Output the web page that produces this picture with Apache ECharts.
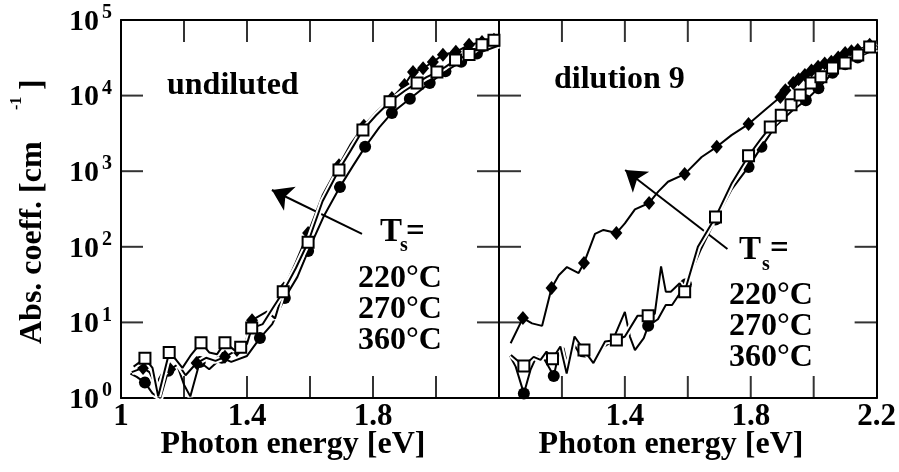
<!DOCTYPE html>
<html><head><meta charset="utf-8">
<script src="https://cdn.jsdelivr.net/npm/echarts@6/dist/echarts.min.js"></script>
<style>html,body{margin:0;padding:0;background:#fff}#c{width:899px;height:472px}</style>
</head><body><div id="c"></div>
<script>
// ---------------- data ----------------
const xLabelsLeft = [1, 1.4, 1.8];
const xLabelsRight = [1.4, 1.8, 2.2];
const xTickValues = [1.2, 1.4, 1.6, 1.8, 2.0];
const yTickValues = [10, 100, 1000, 10000];
const tempLabels = ['220°C', '270°C', '360°C'];
const panelLabels = ['undiluted', 'dilution 9'];
const xTitle = 'Photon energy [eV]';
const yTitle = 'Abs. coeff. [cm';
// [photon energy eV, absorption coefficient cm^-1, marker shown]
const leftD = [[1.034,2.2,0],[1.07,2.5,1],[1.09,2.2,0],[1.11,1.5,0],[1.13,2.1,0],[1.156,2.4,1],[1.182,2.8,0],[1.205,2.0,0],[1.24,2.9,1],[1.27,3.4,0],[1.30,3.1,0],[1.33,3.5,1],[1.368,4.3,1],[1.39,4.6,0],[1.416,10.7,1],[1.463,13.9,0],[1.489,11.3,0],[1.517,28,1],[1.555,62,0],[1.594,152,1],[1.64,480,0],[1.692,1200,1],[1.73,2300,0],[1.771,4000,1],[1.815,6300,0],[1.86,9300,1],[1.90,13800,1],[1.927,20500,1],[1.959,23000,1],[1.99,27800,1],[2.022,34600,1],[2.063,38000,1],[2.105,47000,1],[2.146,51000,1],[2.184,55000,1]];
const leftS = [[1.04,2.6,0],[1.076,3.35,1],[1.10,2.5,0],[1.118,1.05,0],[1.153,4.0,1],[1.175,3.2,0],[1.195,2.5,0],[1.22,3.6,0],[1.254,5.4,1],[1.28,4.0,0],[1.305,3.8,0],[1.33,5.4,1],[1.36,4.3,0],[1.38,4.7,1],[1.40,5.2,0],[1.415,8.4,1],[1.45,9.5,0],[1.48,15,0],[1.515,25.5,1],[1.555,52,0],[1.594,115,1],[1.64,400,0],[1.692,1040,1],[1.73,1900,0],[1.768,3500,1],[1.81,5500,0],[1.854,8300,1],[1.90,11500,0],[1.94,14700,1],[1.97,17500,0],[2.003,20500,1],[2.03,24000,0],[2.062,29500,1],[2.105,35000,1],[2.146,47000,1],[2.184,54000,1]];
const leftC = [[1.03,2.1,0],[1.05,1.9,0],[1.076,1.6,1],[1.10,1.15,0],[1.125,1.0,0],[1.15,2.3,1],[1.18,2.6,0],[1.20,1.5,0],[1.22,1.05,0],[1.25,3.0,1],[1.28,2.4,0],[1.32,3.4,1],[1.35,3.0,0],[1.40,3.6,0],[1.441,6.2,1],[1.48,9.5,0],[1.52,21,1],[1.56,40,0],[1.594,88,1],[1.645,260,0],[1.695,620,1],[1.735,1150,0],[1.775,2100,1],[1.82,3800,0],[1.86,5900,1],[1.917,9100,1],[1.98,14700,1],[2.03,21000,1],[2.08,28000,1],[2.13,36000,1],[2.2,46000,0]];
const rightD = [[1.037,5.3,0],[1.076,11.4,1],[1.105,9.7,0],[1.137,9.0,0],[1.167,28.5,1],[1.19,42,0],[1.216,54,0],[1.253,45,0],[1.27,61,1],[1.305,148,0],[1.332,167,0],[1.373,152,1],[1.40,204,0],[1.432,313,0],[1.477,380,1],[1.506,537,0],[1.537,725,0],[1.59,915,1],[1.644,1540,0],[1.692,2100,1],[1.739,3000,0],[1.793,4200,1],[1.845,6450,0],[1.894,9600,1],[1.91,11800,1],[1.935,14700,1],[1.952,16500,1],[1.972,18700,1],[1.993,21500,1],[2.014,24000,1],[2.035,26500,1],[2.056,28000,1],[2.078,32000,1],[2.10,36600,1],[2.12,38500,1],[2.14,40000,1],[2.178,47000,1],[2.2,50000,0]];
const rightS = [[1.038,3.7,0],[1.079,2.65,1],[1.11,3.5,0],[1.132,3.2,0],[1.151,4.1,0],[1.17,3.3,1],[1.195,4.8,0],[1.215,2.1,0],[1.24,6.5,0],[1.27,4.3,1],[1.30,2.9,0],[1.337,5.6,0],[1.373,5.85,1],[1.40,6.5,0],[1.44,12.2,0],[1.474,12.2,1],[1.495,13,0],[1.515,55,0],[1.53,25.5,0],[1.546,25.5,0],[1.574,33,0],[1.59,25.5,1],[1.632,100,0],[1.688,247,1],[1.74,700,0],[1.793,1600,1],[1.83,2600,0],[1.862,3830,1],[1.897,5500,1],[1.928,7550,1],[1.957,10200,1],[1.992,14700,1],[2.023,17700,1],[2.06,23200,1],[2.10,27000,1],[2.14,34500,1],[2.178,44000,1],[2.2,46000,0]];
const rightC = [[1.035,3.6,0],[1.053,2.6,0],[1.079,1.15,1],[1.10,2.35,0],[1.12,3.6,0],[1.145,3.2,0],[1.16,2.5,0],[1.174,1.95,1],[1.19,3.9,0],[1.205,4.6,0],[1.22,2.4,0],[1.24,5.0,0],[1.26,3.6,0],[1.28,3.5,0],[1.30,3.0,0],[1.335,4.8,0],[1.36,5.6,0],[1.40,13.8,0],[1.416,6.5,0],[1.432,4.3,0],[1.46,6.2,0],[1.474,9.0,1],[1.505,11,0],[1.53,17,0],[1.55,17,0],[1.594,32,1],[1.64,90,0],[1.688,230,1],[1.74,580,0],[1.793,1140,1],[1.834,2100,1],[1.88,4000,0],[1.93,6200,0],[1.975,8700,1],[2.015,12500,1],[2.06,20000,1],[2.10,26000,1],[2.14,32000,1],[2.2,42000,0]];
// arrow annotations [tail, head] in data coordinates
const arrowLeft = [[1.765,148],[1.479,564]];
const arrowRight = [[1.726,93.5],[1.401,1038]];

// ---------------- chart ----------------
const FONT = '"Liberation Serif","Times New Roman",serif';
const BLACK = '#000';
const X_MIN = 1, X_MAX = 2.2, X_STEP = 0.2, Y_MIN = 1, Y_MAX = 100000;
const TICK = 22;
const chart = echarts.init(document.getElementById('c'));

const panels = [
  {left:121, top:20, width:378, height:378, labels:xLabelsLeft},
  {left:499, top:20, width:380, height:378, labels:xLabelsRight}
];

const grids = [], xAxes = [], yAxes = [];
const axisLineStyle = {color:BLACK, width:2};

panels.forEach((p, g) => {
  grids.push({left:p.left, top:p.top, width:p.width, height:p.height, containLabel:false});
  ['bottom','top'].forEach(pos => xAxes.push({
    type:'value', gridIndex:g, position:pos, min:X_MIN, max:X_MAX, interval:X_STEP,
    axisLine:{show:true, onZero:false, lineStyle:axisLineStyle}, axisTick:{show:false},
    splitLine:{show:false}, minorTick:{show:false},
    axisLabel: pos === 'bottom' ? {
      show:true, margin:3, showMinLabel:true, showMaxLabel:true,
      color:BLACK, fontFamily:FONT, fontWeight:'bold', fontSize:31,
      formatter: v => { const r = Math.round(v*10)/10; return p.labels.some(l => Math.abs(l-r) < 1e-6) ? String(r) : ''; }
    } : {show:false}
  }));
  ['left','right'].forEach(pos => yAxes.push({
    type:'log', logBase:10, gridIndex:g, position:pos, min:Y_MIN, max:Y_MAX, splitNumber:5,
    axisLine:{show:true, onZero:false, lineStyle:axisLineStyle}, axisTick:{show:false},
    splitLine:{show:false}, minorTick:{show:false}, minorSplitLine:{show:false},
    axisLabel: (g === 0 && pos === 'left') ? {
      show:true, margin:9, showMinLabel:true, showMaxLabel:true,
      formatter: v => '{b|10}{s|' + Math.round(Math.log10(v)) + '}',
      rich:{
        b:{fontSize:30, fontWeight:'bold', fontFamily:FONT, color:BLACK, lineHeight:34, verticalAlign:'bottom'},
        s:{fontSize:20, fontWeight:'bold', fontFamily:FONT, color:BLACK, lineHeight:20, verticalAlign:'top', padding:[0,0,0,3]}
      }
    } : {show:false}
  }));
});

// inward tick marks, placed through the panel's own axes
function tickSeries(panel) {
  const ax = panel*2;
  const base = {type:'scatter', xAxisIndex:ax, yAxisIndex:ax, z:10, silent:true, clip:false,
    animation:false, symbol:'rect', itemStyle:{color:BLACK, borderWidth:0}, emphasis:{disabled:true}};
  return [
    Object.assign({}, base, {symbolSize:[2,TICK], symbolOffset:[0,-TICK/2], data:xTickValues.map(x => [x, Y_MIN])}),
    Object.assign({}, base, {symbolSize:[2,TICK], symbolOffset:[0, TICK/2], data:xTickValues.map(x => [x, Y_MAX])}),
    Object.assign({}, base, {symbolSize:[TICK,2], symbolOffset:[TICK/2,0], data:yTickValues.map(y => [X_MIN, y])}),
    Object.assign({}, base, {symbolSize:[TICK,2], symbolOffset:[-TICK/2,0], data:yTickValues.map(y => [X_MAX, y])})
  ];
}

const styles = {
  D:{symbol:'diamond', symbolSize:[12,14], color:BLACK, border:BLACK, bw:0},
  S:{symbol:'rect', symbolSize:11, color:'#fff', border:BLACK, bw:2},
  C:{symbol:'circle', symbolSize:12, color:BLACK, border:BLACK, bw:0}
};

function curve(arr, panel, key, z, arrow) {
  const ax = panel*2;
  const st = styles[key];
  const casing = {
    type:'line', xAxisIndex:ax, yAxisIndex:ax, z:z, silent:true, animation:false,
    symbol:'none', lineStyle:{color:'#fff', width:6}, emphasis:{disabled:true},
    data:arr.map(d => [d[0], d[1]])
  };
  const main = {
    type:'line', xAxisIndex:ax, yAxisIndex:ax, z:z+1, silent:true, animation:false,
    symbol:st.symbol, symbolSize:st.symbolSize, showSymbol:true, showAllSymbol:true,
    itemStyle:{color:st.color, borderColor:st.border, borderWidth:st.bw},
    lineStyle:{color:BLACK, width:2},
    emphasis:{disabled:true},
    data:arr.map(d => d[2] ? {value:[d[0], d[1]]} : {value:[d[0], d[1]], symbol:'none'})
  };
  if (arrow) {
    main.markLine = {
      silent:true, animation:false, symbol:['none','arrow'], symbolSize:20,
      label:{show:false}, lineStyle:{color:BLACK, width:2, type:'solid'},
      emphasis:{disabled:true},
      data:[[{coord:arrow[0]}, {coord:arrow[1]}]]
    };
  }
  return [casing, main];
}

function txt(s, x, base, fs, align) {
  return {type:'text', x:x, y:base - 0.34*fs, silent:true,
    style:{text:s, font:'bold ' + fs + 'px ' + FONT, fill:BLACK,
      align:align||'left', verticalAlign:'middle'}};
}
function rtxt(s, x, y, fs) {
  return {type:'text', x:x, y:y, rotation:Math.PI/2, silent:true,
    style:{text:s, font:'bold ' + fs + 'px ' + FONT, fill:BLACK,
      align:'left', verticalAlign:'middle'}};
}

const graphics = [
  txt(panelLabels[0], 167, 97, 32),
  txt(panelLabels[1], 554, 91, 32),
  txt('T', 380, 244, 33), txt('s', 400, 253, 20), txt('=', 406, 244, 33),
  txt(tempLabels[0], 358, 290, 32), txt(tempLabels[1], 358, 321, 32), txt(tempLabels[2], 358, 352, 32),
  txt('T', 739, 262, 33), txt('s', 762, 272, 20), txt('=', 770, 261, 33),
  txt(tempLabels[0], 729, 307, 32), txt(tempLabels[1], 729, 338, 32), txt(tempLabels[2], 729, 369, 32),
  txt(xTitle, 293, 456, 32, 'center'),
  txt(xTitle, 671, 456, 32, 'center'),
  rtxt(yTitle, 33, 344, 32),
  rtxt('-1', 17, 110, 16),
  rtxt(']', 33, 90, 32)
];

chart.setOption({
  animation:false,
  backgroundColor:'#fff',
  grid:grids,
  xAxis:xAxes,
  yAxis:yAxes,
  series:[].concat(
    curve(leftC, 0, 'C', 2),
    curve(leftD, 0, 'D', 4),
    curve(leftS, 0, 'S', 6, arrowLeft),
    curve(rightC, 1, 'C', 2),
    curve(rightD, 1, 'D', 4),
    curve(rightS, 1, 'S', 6, arrowRight),
    tickSeries(0),
    tickSeries(1)
  ),
  graphic:{elements:graphics}
});
</script>
</body></html>
